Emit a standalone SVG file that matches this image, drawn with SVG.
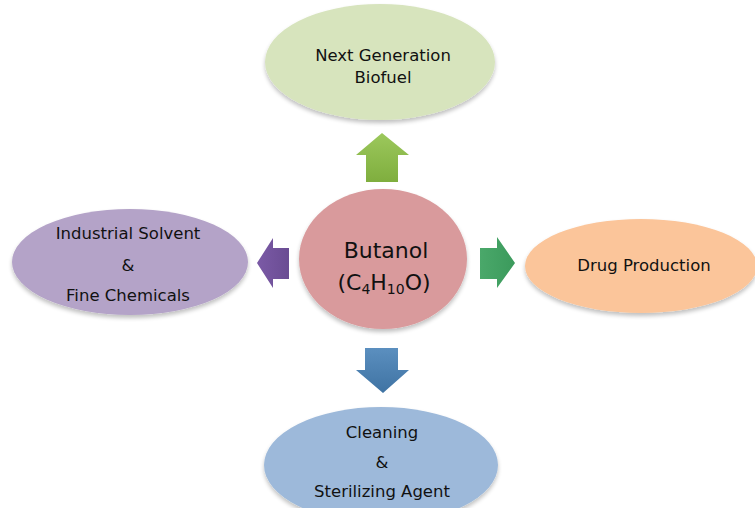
<svg xmlns="http://www.w3.org/2000/svg" width="755" height="508" viewBox="0 0 755 508">
<defs>
<style>
.t{font-family:"DejaVu Sans","Liberation Sans",sans-serif;font-size:16.5px;fill:#111;text-anchor:middle}
.c{font-family:"DejaVu Sans","Liberation Sans",sans-serif;font-size:22px;fill:#111;text-anchor:middle}
</style>
<filter id="sh" x="-10%" y="-10%" width="120%" height="130%">
<feGaussianBlur in="SourceAlpha" stdDeviation="2"/>
<feOffset dx="0" dy="3" result="b"/>
<feComponentTransfer><feFuncA type="linear" slope="0.25"/></feComponentTransfer>
<feMerge><feMergeNode/><feMergeNode in="SourceGraphic"/></feMerge>
</filter>
<linearGradient id="gUp" x1="0" y1="0" x2="0" y2="1"><stop offset="0" stop-color="#9cc85c"/><stop offset="1" stop-color="#7fae3e"/></linearGradient>
<linearGradient id="gL" x1="0" y1="0" x2="1" y2="0"><stop offset="0" stop-color="#7b5aa6"/><stop offset="1" stop-color="#6a4c93"/></linearGradient>
<linearGradient id="gR" x1="0" y1="0" x2="1" y2="0"><stop offset="0" stop-color="#4aa86a"/><stop offset="1" stop-color="#3b9a5c"/></linearGradient>
<linearGradient id="gD" x1="0" y1="0" x2="0" y2="1"><stop offset="0" stop-color="#5b8fbf"/><stop offset="1" stop-color="#3f73a3"/></linearGradient>
</defs>
<rect width="755" height="508" fill="#ffffff"/>
<g id="connectors">
<path d="M366,182 L366,155 L356,155 L382,133 L409,155 L398,155 L398,182 Z" fill="url(#gUp)"/>
<path d="M289,248 L273,248 L273,238 L257,263 L273,288 L273,279 L289,279 Z" fill="url(#gL)"/>
<path d="M480,248 L497,248 L497,237 L515,263 L497,288 L497,279 L480,279 Z" fill="url(#gR)"/>
<path d="M365,348 L398,348 L398,370 L409,370 L383,393 L356,370 L365,370 Z" fill="url(#gD)"/>
</g>
<g id="biofuel">
<ellipse cx="380" cy="62" rx="115" ry="58" fill="#d7e4bd" filter="url(#sh)"/>
<text class="t" x="383" y="61">Next Generation</text>
<text class="t" x="383" y="83">Biofuel</text>
</g>
<g id="butanol">
<ellipse cx="383" cy="259" rx="84" ry="70" fill="#d99a9c" filter="url(#sh)"/>
<text class="c" x="386" y="258">Butanol</text>
<text class="c" x="384" y="290">(C<tspan font-size="14" dy="4">4</tspan><tspan dy="-4">H</tspan><tspan font-size="14" dy="4">10</tspan><tspan dy="-4">O)</tspan></text>
</g>
<g id="solvent">
<ellipse cx="130" cy="262" rx="118" ry="53" fill="#b4a3c8" filter="url(#sh)"/>
<text class="t" x="128" y="239">Industrial Solvent</text>
<text class="t" x="128" y="271">&amp;</text>
<text class="t" x="128" y="301">Fine Chemicals</text>
</g>
<g id="drug">
<ellipse cx="641" cy="266" rx="116" ry="47" fill="#fbc59a" filter="url(#sh)"/>
<text class="t" x="644" y="271">Drug Production</text>
</g>
<g id="cleaning">
<ellipse cx="381" cy="465" rx="117" ry="58" fill="#9db9da" filter="url(#sh)"/>
<text class="t" x="382" y="438">Cleaning</text>
<text class="t" x="382" y="468">&amp;</text>
<text class="t" x="382" y="497">Sterilizing Agent</text>
</g>
</svg>
